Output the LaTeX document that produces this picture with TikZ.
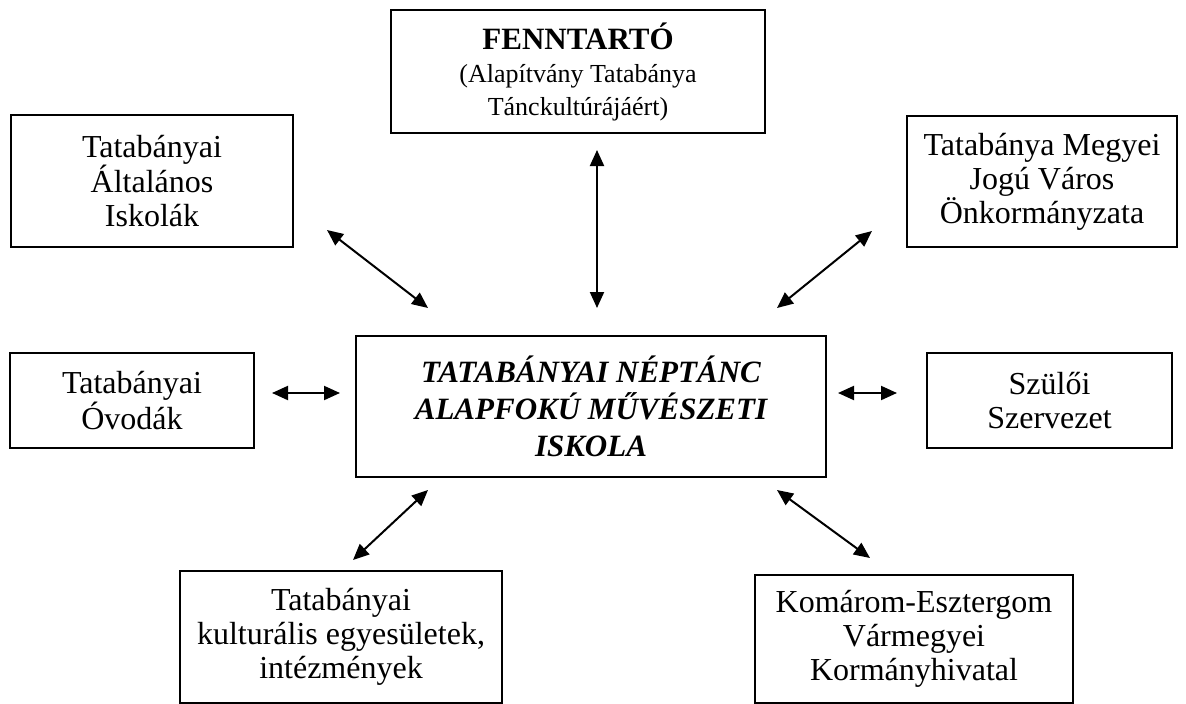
\documentclass[tikz,border=0pt]{standalone}
\usepackage{fontspec}
\setmainfont{Liberation Serif}
\usetikzlibrary{arrows.meta}
\tikzset{
  box/.style={draw, line width=1.6pt, align=center, inner sep=0pt, font=\fontsize{32}{34}\selectfont},
  link/.style={line width=2pt, {Triangle[length=16pt,width=14pt]}-{Triangle[length=16pt,width=14pt]}}
}
\newcommand{\headtxt}{\fontsize{31}{33}\selectfont\bfseries}
\begin{document}
\begin{tikzpicture}[x=1pt,y=-1pt]
\useasboundingbox (0,0) rectangle (1186,704);
% boxes
\node[box, minimum width=374pt, minimum height=123pt, font=\fontsize{26}{33}\selectfont] (fen) at (578,71.5)
  {{\headtxt FENNTARTÓ}\\(Alapítvány Tatabánya\\Tánckultúrájáért)};
\node[box, minimum width=282pt, minimum height=132pt] (alt) at (152,181)
  {Tatabányai\\Általános\\Iskolák};
\node[box, minimum width=270pt, minimum height=131pt] (onk) at (1042,181.5)
  {Tatabánya Megyei\\Jogú Város\\Önkormányzata};
\node[box, minimum width=244pt, minimum height=95pt] (ovi) at (132,400.5)
  {Tatabányai\\Óvodák};
\node[box, minimum width=470pt, minimum height=141pt, font=\fontsize{31}{37}\selectfont\bfseries\itshape] (main) at (591,406.5)
  {TATABÁNYAI NÉPTÁNC\\ALAPFOKÚ MŰVÉSZETI\\ISKOLA};
\node[box, minimum width=245pt, minimum height=95pt] (szulo) at (1049.5,400.5)
  {Szülői\\Szervezet};
\node[box, minimum width=322pt, minimum height=132pt] (kult) at (341,637)
  {Tatabányai\\kulturális egyesületek,\\intézmények};
\node[box, minimum width=318pt, minimum height=128pt] (korm) at (914,639)
  {Komárom-Esztergom\\Vármegyei\\Kormányhivatal};
% arrow end points
\coordinate (t1) at (597,150); \coordinate (t2) at (597,308);
\coordinate (a1) at (327,230); \coordinate (a2) at (428,308);
\coordinate (b1) at (872,231); \coordinate (b2) at (777,308);
\coordinate (c1) at (272,393); \coordinate (c2) at (340,393);
\coordinate (d1) at (838,393); \coordinate (d2) at (897,393);
\coordinate (e1) at (428,490); \coordinate (e2) at (353,560);
\coordinate (f1) at (777,490); \coordinate (f2) at (870,558);
\draw[link] (t1) -- (t2);
\draw[link] (a1) -- (a2);
\draw[link] (b1) -- (b2);
\draw[link] (c1) -- (c2);
\draw[link] (d1) -- (d2);
\draw[link] (e1) -- (e2);
\draw[link] (f1) -- (f2);
\end{tikzpicture}
\end{document}
